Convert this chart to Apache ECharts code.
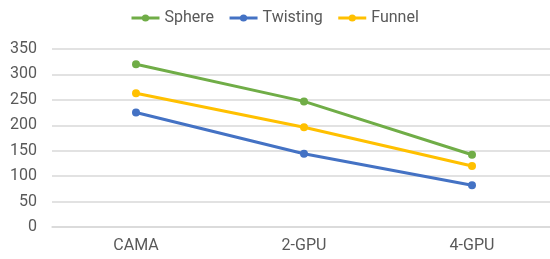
<!DOCTYPE html>
<html><head><meta charset="utf-8">
<script src="https://cdn.jsdelivr.net/npm/echarts@6/dist/echarts.min.js"></script>
<style>html,body{margin:0;padding:0;background:#fff;overflow:hidden}#c{width:556px;height:259px}</style>
</head><body><div id="c"></div>
<script>
const categories = ["CAMA", "2-GPU", "4-GPU"];
const sphere = [320, 247, 142];
const twisting = [225, 144, 82];
const funnel = [263, 196, 120];
const yTicks = [0, 50, 100, 150, 200, 250, 300, 350];

const chart = echarts.init(document.getElementById('c'), null, {renderer: 'canvas'});
const font = 'Roboto';
function s(name, data, color) {
  return {name, type: 'line', data, color, symbol: 'circle', symbolSize: 8,
    lineStyle: {width: 3, color}, itemStyle: {color}};
}
chart.setOption({
  animation: false,
  textStyle: {fontFamily: font},
  legend: {top: 10, left: 130, padding: 0, itemWidth: 28, itemHeight: 9, itemGap: 14,
    lineStyle: {width: 3},
    textStyle: {color: '#595959', fontSize: 16, fontFamily: font},
    data: ['Sphere', 'Twisting', 'Funnel']},
  grid: {left: 52, top: 49, right: 0, bottom: 32, containLabel: false},
  xAxis: {type: 'category', data: categories, boundaryGap: true,
    axisLine: {lineStyle: {color: '#D9D9D9', width: 1.5}}, axisTick: {show: false},
    axisLabel: {color: '#595959', fontSize: 16, margin: 11, fontFamily: font}},
  yAxis: {type: 'value', min: yTicks[0], max: yTicks[yTicks.length-1], interval: 50,
    axisLine: {show: false}, axisTick: {show: false},
    splitLine: {lineStyle: {color: '#D9D9D9', width: 1.5}},
    axisLabel: {color: '#595959', fontSize: 16, margin: 15, fontFamily: font}},
  series: [s('Sphere', sphere, '#70AD47'), s('Twisting', twisting, '#4472C4'), s('Funnel', funnel, '#FFC000')]
});
</script></body></html>
